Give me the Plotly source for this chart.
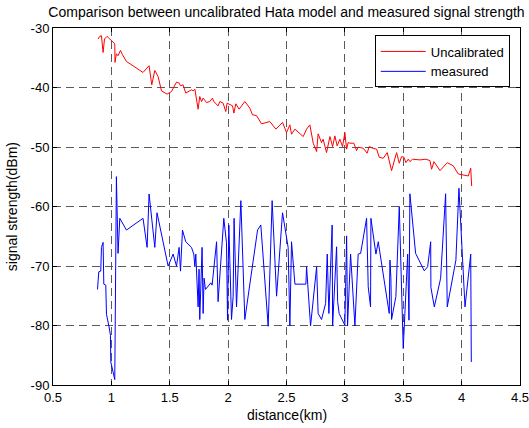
import plotly.graph_objects as go

# Uncalibrated Hata model (red)
unc_x = [0.886, 0.900, 0.915, 0.929, 0.941, 0.952, 0.963, 0.986, 1.014, 1.029,
         1.031, 1.043, 1.057, 1.078, 1.095, 1.129, 1.271, 1.323, 1.346, 1.372,
         1.400, 1.429, 1.477, 1.515, 1.558, 1.580, 1.592, 1.614, 1.637, 1.686,
         1.700, 1.715, 1.743, 1.757, 1.772, 1.786, 1.815, 1.843, 1.866, 1.877,
         1.914, 1.929, 1.957, 1.980, 1.991, 2.015, 2.038, 2.049, 2.066, 2.094,
         2.143, 2.186, 2.209, 2.243, 2.286, 2.357, 2.409, 2.466, 2.500, 2.529,
         2.543, 2.572, 2.643, 2.672, 2.700, 2.729, 2.758, 2.771, 2.800, 2.814,
         2.843, 2.872, 2.895, 2.914, 2.934, 2.957, 2.980, 3.000, 3.015, 3.028,
         3.043, 3.077, 3.100, 3.114, 3.157, 3.191, 3.208, 3.238, 3.272, 3.294,
         3.329, 3.363, 3.400, 3.443, 3.466, 3.486, 3.506, 3.523, 3.543, 3.557,
         3.580, 3.643, 3.694, 3.729, 3.743, 3.763, 3.815, 3.877, 3.929, 3.971,
         4.029, 4.057, 4.078, 4.086]
unc_y = [-31.85, -31.41, -31.30, -34.11, -31.85, -31.52, -31.41, -31.85, -32.31, -32.64,
         -35.79, -34.33, -34.66, -33.77, -34.49, -35.62, -37.47, -36.35, -39.55, -37.14,
         -38.15, -40.56, -41.11, -40.67, -39.09, -39.26, -39.71, -39.55, -40.94, -40.39,
         -40.56, -40.27, -43.64, -41.52, -42.36, -41.78, -42.53, -42.36, -41.78, -42.36,
         -43.08, -42.36, -42.63, -44.04, -42.63, -42.91, -43.08, -44.31, -42.74, -43.64,
         -42.36, -43.47, -44.60, -44.71, -46.11, -45.72, -47.00, -45.86, -47.58, -46.28,
         -47.85, -47.00, -48.25, -47.00, -46.28, -49.36, -50.77, -47.79, -49.26, -48.69,
         -50.94, -48.25, -49.93, -48.13, -49.81, -48.69, -49.93, -47.58, -50.37, -49.26,
         -49.36, -49.36, -50.61, -50.03, -50.20, -51.04, -49.93, -50.20, -50.37, -51.72,
         -51.89, -50.94, -53.97, -50.94, -52.73, -51.62, -51.72, -52.63, -52.05, -52.46,
         -52.05, -52.17, -52.05, -52.29, -53.74, -52.46, -53.97, -52.63, -53.18, -54.53,
         -54.70, -54.87, -53.57, -56.55]

# Measured signal strength (blue)
mea_x = [0.881, 0.892, 0.909, 0.915, 0.929, 0.935, 0.952, 0.958, 0.980, 0.992,
         0.995, 1.014, 1.029, 1.043, 1.057, 1.072, 1.129, 1.271, 1.306, 1.323,
         1.352, 1.372, 1.391, 1.486, 1.529, 1.558, 1.580, 1.592, 1.609, 1.637,
         1.686, 1.706, 1.715, 1.723, 1.743, 1.751, 1.757, 1.777, 1.786, 1.794,
         1.806, 1.852, 1.863, 1.901, 1.914, 1.963, 1.986, 1.995, 2.006, 2.029,
         2.043, 2.051, 2.072, 2.109, 2.143, 2.252, 2.280, 2.343, 2.377, 2.415,
         2.466, 2.514, 2.529, 2.543, 2.572, 2.666, 2.672, 2.706, 2.758, 2.771,
         2.800, 2.835, 2.849, 2.863, 2.891, 2.895, 2.929, 2.938, 2.951, 3.000,
         3.015, 3.023, 3.049, 3.086, 3.114, 3.135, 3.186, 3.200, 3.220, 3.223,
         3.266, 3.286, 3.380, 3.386, 3.394, 3.400, 3.437, 3.466, 3.500, 3.538,
         3.549, 3.557, 3.606, 3.680, 3.709, 3.735, 3.737, 3.766, 3.820, 3.863,
         3.877, 3.951, 3.977, 4.029, 4.078, 4.083]
mea_y = [-73.94, -70.98, -70.86, -66.87, -66.03, -73.05, -73.22, -78.10, -80.24, -81.63,
         -86.13, -87.53, -89.09, -54.98, -67.88, -61.99, -63.96, -61.99, -66.87, -57.90,
         -63.96, -66.87, -61.05, -70.02, -68.00, -70.02, -66.87, -70.86, -63.96, -65.93,
         -66.87, -68.00, -70.13, -68.00, -76.87, -70.54, -78.99, -66.87, -77.98, -72.05,
         -73.94, -72.83, -73.22, -65.93, -75.99, -61.99, -66.09, -79.11, -63.11, -78.99,
         -75.07, -61.99, -76.87, -59.02, -78.99, -63.96, -63.11, -80.12, -59.02, -75.07,
         -61.05, -66.87, -80.08, -65.93, -73.05, -73.05, -70.13, -80.08, -70.13, -77.98,
         -78.99, -76.30, -68.00, -77.98, -63.11, -80.08, -66.77, -75.99, -77.98, -79.95,
         -64.93, -80.08, -68.00, -80.08, -68.00, -67.88, -61.99, -73.50, -76.87, -61.99,
         -68.00, -65.93, -77.98, -69.01, -71.92, -78.99, -75.15, -60.00, -83.87, -68.00,
         -79.11, -57.86, -67.88, -70.81, -70.13, -65.93, -73.60, -76.87, -72.09, -57.86,
         -76.87, -69.01, -56.94, -76.87, -68.00, -86.13]

x_ticks = [0.5, 1, 1.5, 2, 2.5, 3, 3.5, 4, 4.5]
x_tick_text = ["0.5", "1", "1.5", "2", "2.5", "3", "3.5", "4", "4.5"]
y_ticks = [-90, -80, -70, -60, -50, -40, -30]
y_tick_text = ["-90", "-80", "-70", "-60", "-50", "-40", "-30"]

FONT = "Liberation Sans, Arial, Helvetica, sans-serif"
FS = 14
TICK_FS = 13
LEG_FS = 13

fig = go.Figure()
fig.add_trace(go.Scatter(x=unc_x, y=unc_y, mode="lines", name="Uncalibrated",
                         line=dict(color="rgb(255,0,0)", width=1)))
fig.add_trace(go.Scatter(x=mea_x, y=mea_y, mode="lines", name="measured",
                         line=dict(color="rgb(0,0,255)", width=1)))

axis_common = dict(
    showline=True, linecolor="black", linewidth=1, mirror="ticks",
    ticks="inside", ticklen=4, tickcolor="black", tickwidth=1,
    showgrid=True, gridcolor="rgb(90,90,90)", gridwidth=1, griddash="8px,5px",
    zeroline=False, tickfont=dict(family=FONT, size=TICK_FS, color="black"),
    ticklabeloverflow="allow", automargin=False,
)

fig.update_xaxes(range=[0.4999, 4.5001], tickvals=x_ticks, ticktext=x_tick_text, **axis_common)
fig.update_yaxes(range=[-90.0001, -29.9999], tickvals=y_ticks, ticktext=y_tick_text, **axis_common)

fig.update_layout(
    width=529, height=428,
    margin=dict(l=53, r=9, t=28, b=43, pad=0, autoexpand=False),
    paper_bgcolor="white", plot_bgcolor="white",
    font=dict(family=FONT, size=FS, color="black"),
    title=dict(text="Comparison between uncalibrated Hata model and measured signal strength",
               xref="paper", x=0.5, xanchor="center",
               yref="container", y=1 - 12.5 / 428, yanchor="middle",
               font=dict(family=FONT, size=FS, color="black"),
               automargin=False),
    showlegend=True,
    legend=dict(x=0.689, xanchor="left", y=0.979, yanchor="top",
                bgcolor="white", bordercolor="black", borderwidth=1,
                font=dict(family=FONT, size=LEG_FS, color="black"),
                itemwidth=45, tracegroupgap=0),
    annotations=[
        dict(text="distance(km)", xref="paper", yref="paper", x=0.5, y=-0.085,
             xanchor="center", yanchor="middle", showarrow=False,
             font=dict(family=FONT, size=FS, color="black")),
        dict(text="signal strength(dBm)", xref="paper", yref="paper", x=-0.0885, y=0.5,
             xanchor="center", yanchor="middle", textangle=-90, showarrow=False,
             font=dict(family=FONT, size=FS, color="black")),
    ],
)

fig.write_html("out.html")
